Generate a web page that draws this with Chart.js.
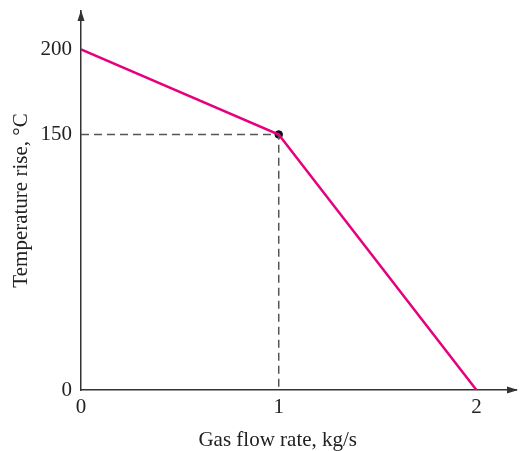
<!DOCTYPE html>
<html>
<head>
<meta charset="utf-8">
<script src="https://cdn.jsdelivr.net/npm/chart.js@4/dist/chart.umd.min.js"></script>
<style>
  html, body { margin: 0; padding: 0; background: #fff; }
  #wrap { width: 521px; height: 451px; }
</style>
</head>
<body>
<div id="wrap"><canvas id="myChart" width="521" height="451"></canvas></div>
<script>
const flowRate = [0, 1, 2];          // kg/s
const tempRise = [200, 150, 0];      // °C
const xTickValues = [0, 1, 2];
const yTickValues = [0, 150, 200];
const kneeIndex = 1;
const xTitle = 'Gas flow rate, kg/s';

const kneeX = flowRate[kneeIndex];
const kneeY = tempRise[kneeIndex];
const guideLine = [
    {x: flowRate[0], y: kneeY},
    {x: kneeX, y: kneeY},
    {x: kneeX, y: 0}
];

const font = {family: "'Liberation Serif', 'DejaVu Serif', serif", size: 21};
const axisColor = '#333';
const textColor = '#222';

// arrow heads on both axes + x title centred under the knee like the original
const axisExtras = {
    id: 'axisExtras',
    afterDraw(chart) {
        const {ctx, chartArea} = chart;
        ctx.save();
        ctx.fillStyle = axisColor;
        ctx.beginPath();
        ctx.moveTo(chartArea.left, chartArea.top - 1);
        ctx.lineTo(chartArea.left - 3.5, chartArea.top + 10);
        ctx.lineTo(chartArea.left + 3.5, chartArea.top + 10);
        ctx.closePath();
        ctx.fill();
        ctx.beginPath();
        ctx.moveTo(chartArea.right + 2, chartArea.bottom);
        ctx.lineTo(chartArea.right - 9, chartArea.bottom - 3.5);
        ctx.lineTo(chartArea.right - 9, chartArea.bottom + 3.5);
        ctx.closePath();
        ctx.fill();

        ctx.fillStyle = textColor;
        ctx.font = font.size + 'px ' + font.family;
        ctx.textAlign = 'center';
        ctx.textBaseline = 'alphabetic';
        ctx.fillText(xTitle, chart.scales.x.getPixelForValue(kneeX) - 1, 446);
        ctx.restore();
    }
};

const ctx = document.getElementById('myChart');

var chart = new Chart(ctx, {
    type: 'line',
    data: {
        datasets: [{
            data: flowRate.map((x, i) => ({x: x, y: tempRise[i]})),
            borderColor: 'rgb(230, 0, 126)',
            borderWidth: 2.5,
            pointRadius: 0,
            tension: 0
        }, {
            data: guideLine,
            borderColor: '#555',
            borderWidth: 1.5,
            borderDash: [8, 5],
            pointRadius: 0
        }, {
            data: [{x: kneeX, y: kneeY}],
            showLine: false,
            pointRadius: 3.8,
            pointBackgroundColor: '#111',
            pointBorderColor: '#111'
        }]
    },
    options: {
        responsive: false,
        animation: false,
        layout: {padding: {top: 11, right: 1, left: 0, bottom: 0}},
        plugins: {legend: {display: false}, tooltip: {enabled: false}},
        scales: {
            x: {
                type: 'linear',
                min: 0,
                max: 2.2,
                grid: {display: false, tickLength: 0},
                border: {display: true, color: axisColor, width: 1.5},
                afterBuildTicks: s => { s.ticks = xTickValues.map(v => ({value: v})); },
                afterFit: s => { s.height = 61; s.paddingLeft = 0; s.paddingRight = 0; },
                ticks: {color: textColor, font: font, padding: 5}
            },
            y: {
                type: 'linear',
                min: 0,
                max: 222.5,
                grid: {display: false, tickLength: 0},
                border: {display: true, color: axisColor, width: 1.5},
                afterBuildTicks: s => { s.ticks = yTickValues.map(v => ({value: v})); },
                afterFit: s => { s.width = 81; s.paddingTop = 0; s.paddingBottom = 0; },
                ticks: {color: textColor, font: font, padding: 9},
                title: {display: true, text: 'Temperature rise, °C', color: textColor, font: font, padding: {top: 9, bottom: 0}}
            }
        }
    },
    plugins: [axisExtras]
});
</script>
</body>
</html>
